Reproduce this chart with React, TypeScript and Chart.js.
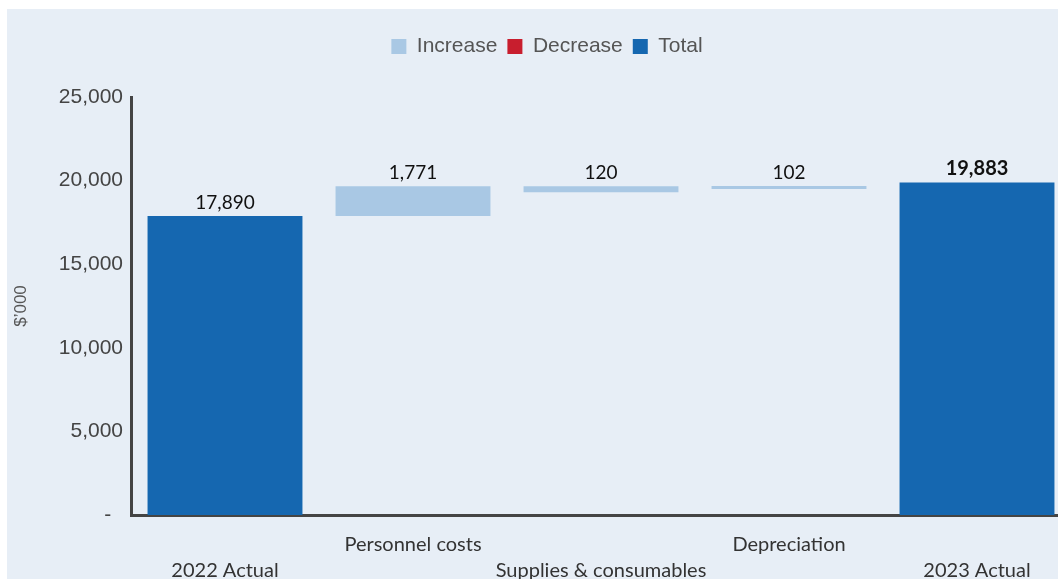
import React, { useEffect, useRef } from 'react';
import { Chart, registerables } from 'chart.js';

Chart.register(...registerables);

const categories = ['2022 Actual', 'Personnel costs', 'Supplies & consumables', 'Depreciation', '2023 Actual'];
const totalValues = [17890, null, null, null, 19883];
const increaseStart = [null, 17890, 19300, 19500, null];
const increaseEnd = [null, 19661, 19661, 19680, null];
const decreaseValues = [null, null, null, null, null];
const valueLabels = ['17,890', '1,771', '120', '102', '19,883'];
const boldLabels = [false, false, false, false, true];
const yTickValues = [0, 5000, 10000, 15000, 20000, 25000];
const yTickLabels = ['-  ', '5,000', '10,000', '15,000', '20,000', '25,000'];

const BG = '#E7EEF6';
const C_INC = '#A9C8E4';
const C_DEC = '#C81E2E';
const C_TOT = '#1567B0';

const labelPlugin = {
  id: 'valueLabels',
  afterDatasetsDraw(chart: any) {
    const ctx = chart.ctx;
    ctx.save();
    ctx.textAlign = 'center';
    ctx.textBaseline = 'bottom';
    ctx.fillStyle = '#111111';
    chart.data.datasets.forEach((ds: any, di: number) => {
      const meta = chart.getDatasetMeta(di);
      meta.data.forEach((el: any, i: number) => {
        if (ds.data[i] == null) return;
        const top = Math.min(el.y, el.base);
        ctx.font = boldLabels[i] ? 'bold 20px Lato' : '19px Lato';
        ctx.fillText(valueLabels[i], el.x, top - 4);
      });
    });
    ctx.restore();
  },
};

const layoutPlugin = {
  id: 'layoutTweak',
  beforeInit(chart: any) {
    const legend = chart.legend;
    if (legend) {
      const origFit = legend.fit;
      legend.fit = function () {
        origFit.call(this);
        this.height = 71;
      };
    }
  },
  afterLayout(chart: any) {
    const legend = chart.legend;
    if (legend) {
      legend.left += 8;
      legend.right += 8;
    }
  },
};

export default function App() {
  const ref = useRef<HTMLCanvasElement | null>(null);
  useEffect(() => {
    if (!ref.current) return;
    const chart = new Chart(ref.current, {
      type: 'bar',
      data: {
        labels: categories,
        datasets: [
          {
            label: 'Increase',
            data: increaseStart.map((s, i) => (s == null ? null : [s, increaseEnd[i] as number])) as any,
            backgroundColor: C_INC,
          },
          {
            label: 'Decrease',
            data: decreaseValues as any,
            backgroundColor: C_DEC,
          },
          {
            label: 'Total',
            data: totalValues as any,
            backgroundColor: C_TOT,
          },
        ],
      },
      options: {
        responsive: false,
        animation: false,
        grouped: false,
        categoryPercentage: 1,
        barPercentage: 0.824,
        layout: { padding: { top: 17, left: 0, right: 16, bottom: 0 } },
        plugins: {
          tooltip: { enabled: false },
          legend: {
            position: 'top',
            labels: {
              boxWidth: 15,
              boxHeight: 15,
              padding: 10,
              color: '#555555',
              font: { family: 'Liberation Sans', size: 21 },
            },
          },
        },
        scales: {
          x: {
            grid: { display: false, drawTicks: false },
            border: { display: true, width: 3, color: '#444444' },
            afterFit(scale: any) {
              scale.height = 84;
            },
            ticks: {
              padding: 16,
              maxRotation: 0,
              autoSkip: false,
              color: '#333333',
              font: { family: 'Lato', size: 20, lineHeight: 1.32 },
              callback: (_v: any, i: number) =>
                i % 2 === 0 ? ['', categories[i]] : [categories[i], ''],
            },
          },
          y: {
            min: 0,
            max: 25000,
            afterFit(scale: any) {
              scale.width = 124;
            },
            afterBuildTicks(scale: any) {
              scale.ticks = yTickValues.map((v) => ({ value: v }));
            },
            grid: { display: false, drawTicks: false },
            border: { display: true, width: 3, color: '#444444' },
            ticks: {
              padding: 8,
              color: '#444444',
              font: { family: 'Liberation Sans', size: 21 },
              callback: (v: any) => yTickLabels[yTickValues.indexOf(Number(v))] ?? '',
            },
            title: {
              display: true,
              text: '$\u2019000',
              color: '#555555',
              padding: { top: 4, bottom: 0 },
              font: { family: 'Liberation Sans', size: 17 },
            },
          },
        },
      } as any,
      plugins: [labelPlugin, layoutPlugin],
    });
    return () => chart.destroy();
  }, []);

  return (
    <div
      style={{
        position: 'absolute',
        left: 7,
        top: 9,
        width: 1051,
        height: 570,
        background: BG,
        overflow: 'hidden',
      }}
    >
      <canvas ref={ref} width={1080} height={590} style={{ display: 'block' }} />
    </div>
  );
}
